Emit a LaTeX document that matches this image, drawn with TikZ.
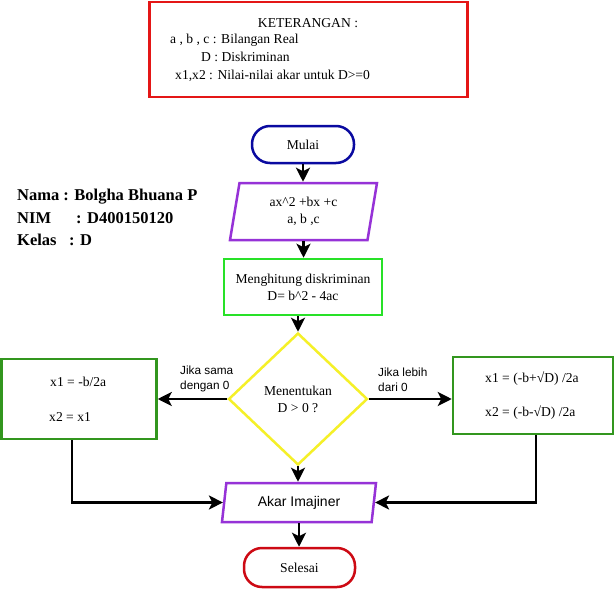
\documentclass[tikz,border=0pt]{standalone}
\usepackage{fontspec}
\setmainfont{Liberation Serif}
\newfontfamily\sansf{Liberation Sans}
\usetikzlibrary{shapes.geometric,arrows.meta}
\definecolor{legred}{RGB}{228,22,22}
\definecolor{navyb}{RGB}{10,10,160}
\definecolor{purp}{RGB}{150,50,215}
\definecolor{brgreen}{RGB}{40,225,40}
\definecolor{dkgreen}{RGB}{50,150,30}
\definecolor{yel}{RGB}{245,240,40}
\definecolor{endred}{RGB}{205,10,20}
\begin{document}
\begin{tikzpicture}[x=1pt,y=-1pt,
  txt/.style={font=\fontsize{13.6}{17}\selectfont, inner sep=0, align=center},
  lbl/.style={font=\sansf\fontsize{11.8}{15}\selectfont, inner sep=0, align=left, anchor=west},
  namefont/.style={font=\bfseries\fontsize{16.5}{18}\selectfont, inner sep=0, anchor=west},
  shp/.style={line width=2.5pt, inner sep=0},
  term/.style={shp, rectangle, rounded corners=18pt},
  iobox/.style={shp, draw=purp, trapezium, trapezium left angle=71.57, trapezium right angle=108.43, trapezium stretches body},
  arr/.style={line width=2.7pt, -{Stealth[length=14pt,width=14pt,inset=3.5pt]}},
  ln/.style={line width=2.7pt}]
\useasboundingbox (0,0) rectangle (616,589);
\fill[white] (0,0) rectangle (616,589);

% legend
\node[draw=legred, line width=2.8pt, minimum width=318pt, minimum height=95pt, inner sep=0] (leg) at (308.5,49.5) {};
\node[txt] (k0) at (308,23) {KETERANGAN :};
\node[txt, anchor=west] (k1) at (170,40) {a , b , c : Bilangan Real};
\node[txt, anchor=west] (k2) at (201,57) {D : Diskriminan};
\node[txt, anchor=west] (k3) at (175,76) {x1,x2 : Nilai-nilai akar untuk D>=0};

% name block
\node[namefont] (n1) at (17,197) {Nama : Bolgha Bhuana P};
\node[namefont] (n2a) at (17,218) {NIM};
\node[namefont] (n2b) at (76,218) {: D400150120};
\node[namefont] (n3a) at (17,240) {Kelas};
\node[namefont] (n3b) at (69,240) {: D};

% flow
\node[term, draw=navyb, minimum width=102pt, minimum height=37pt, txt] (start) at (303,144.5) {Mulai};
\node[iobox, minimum width=147pt, minimum height=57pt, txt] (in1) at (303.5,211.5) {ax\textasciicircum2 +bx +c\\a, b ,c};
\node[shp, draw=brgreen, rectangle, minimum width=158pt, minimum height=56pt, txt] (calc) at (303,287) {Menghitung diskriminan\\D= b\textasciicircum2 - 4ac};
\node[shp, draw=yel, diamond, minimum width=139pt, minimum height=132pt, txt] (dec) at (298,399) {Menentukan\\D > 0 ?};

\node[shp, draw=dkgreen, rectangle, minimum width=155pt, minimum height=80pt] (eq) at (79,399) {};
\node[txt, anchor=west] (eq1) at (50,382) {x1 = -b/2a};
\node[txt, anchor=west] (eq2) at (49,417) {x2 = x1};

\node[shp, draw=dkgreen, rectangle, minimum width=160pt, minimum height=77pt] (gt) at (533,395.5) {};
\node[txt, anchor=west] (gt1) at (485,379) {x1 = (-b+√D) /2a};
\node[txt, anchor=west] (gt2) at (485,413) {x2 = (-b-√D) /2a};

\node[lbl] (lblL) at (180,378.5) {Jika sama\\dengan 0};
\node[lbl] (lblR) at (378,379.5) {Jika lebih\\dari 0};

\node[iobox, minimum width=154pt, minimum height=39pt, font=\sansf\fontsize{14}{16}\selectfont] (out) at (299,502.5) {Akar Imajiner};
\node[term, draw=endred, minimum width=111pt, minimum height=39pt, txt] (stop) at (299.5,567.5) {Selesai};

% connectors
\draw[arr] (start.south) -- (start.south |- in1.north);
\draw[arr] (in1.south) -- (in1.south |- calc.north);
\draw[arr] (calc.south -| dec.north) -- (dec.north);
\draw[arr] (dec.west) -- (eq.east |- dec.west);
\draw[arr] (dec.east) -- (gt.west |- dec.east);
\draw[arr] (dec.south) -- (dec.south |- out.north);
\draw[arr] ([xshift=-7pt]eq.south) |- (out.west);
\draw[arr] ([xshift=3pt]gt.south) |- (out.east);
\draw[arr] (out.south) -- (out.south |- stop.north);
\end{tikzpicture}
\end{document}
